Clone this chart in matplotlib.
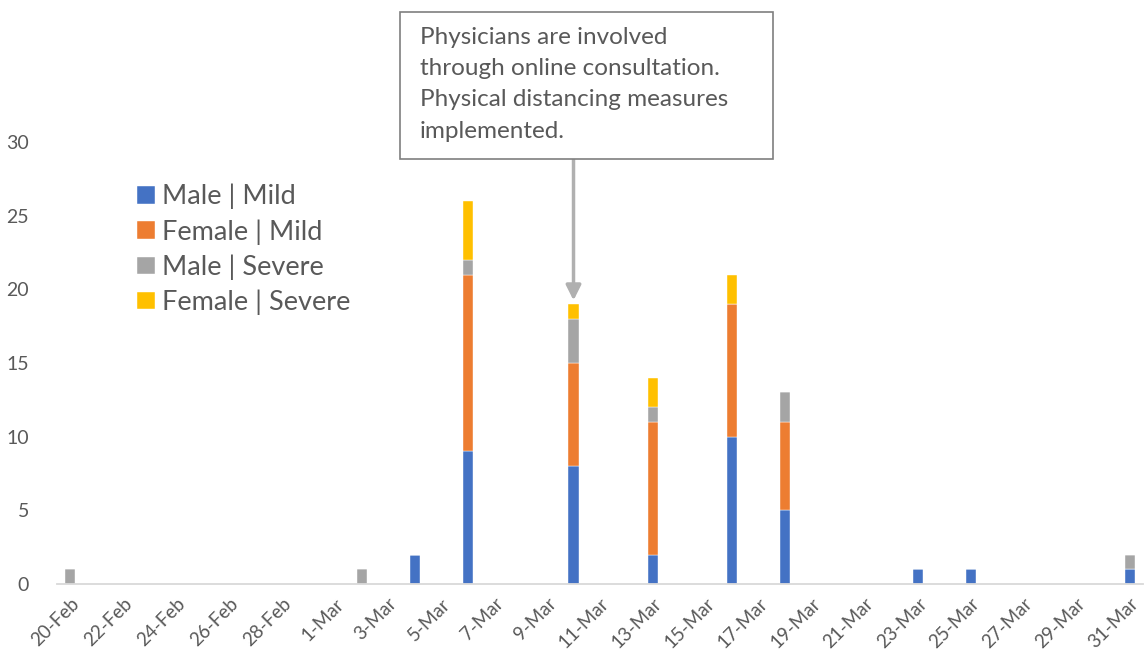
import pandas as pd
import numpy as np
import matplotlib
matplotlib.use('Agg')
import matplotlib.pyplot as plt
from matplotlib.patches import Rectangle

plt.rcParams['font.family'] = ['Lato', 'DejaVu Sans']

# data
start = '2020-02-20'
end = '2020-03-31'
case_days = ['2020-02-20', '2020-03-02', '2020-03-04', '2020-03-06', '2020-03-10',
             '2020-03-13', '2020-03-16', '2020-03-18', '2020-03-23', '2020-03-25',
             '2020-03-31']
male_mild = [0, 0, 2, 9, 8, 2, 10, 5, 1, 1, 1]
female_mild = [0, 0, 0, 12, 7, 9, 9, 6, 0, 0, 0]
male_severe = [1, 1, 0, 1, 3, 1, 0, 2, 0, 0, 1]
female_severe = [0, 0, 0, 4, 1, 2, 2, 0, 0, 0, 0]
series_names = ['Male | Mild', 'Female | Mild', 'Male | Severe', 'Female | Severe']
colors = ['#4472C4', '#ED7D31', '#A5A5A5', '#FFC000']
note = ('Physicians are involved\nthrough online consultation.\n'
        'Physical distancing measures\nimplemented.')
note_day = '2020-03-10'

all_days = pd.date_range(start, end, freq='D')
t0 = pd.Timestamp(start)
x = np.array([(pd.Timestamp(d) - t0).days for d in case_days])
tick_x = np.arange(0, len(all_days), 2)
tick_labels = [f"{d.day}-{d.strftime('%b')}" for d in all_days[::2]]

W, H = 1146, 664
fig = plt.figure(figsize=(W / 100, H / 100), dpi=100)
ax = fig.add_axes([57 / W, (H - 584) / H, 1086 / W, 442 / H])

bottom = np.zeros(len(x))
for vals, name, c in zip([male_mild, female_mild, male_severe, female_severe], series_names, colors):
    vals = np.array(vals)
    ax.bar(x, vals, width=0.38, bottom=bottom, color=c, label=name,
           edgecolor='white', linewidth=0.3)
    bottom = bottom + vals

ax.set_xlim(-0.5, len(all_days) - 0.5)
ax.set_ylim(0, 30)
ax.set_yticks([0, 5, 10, 15, 20, 25, 30])
ax.set_xticks(tick_x)
ax.set_xticklabels(tick_labels, rotation=45, ha='right', va='top', rotation_mode='anchor')
ax.tick_params(axis='both', length=0, labelsize=13.5, colors='#595959')
ax.tick_params(axis='y', labelsize=14, pad=20)
ax.tick_params(axis='x', pad=8)
for s in ['top', 'right', 'left']:
    ax.spines[s].set_visible(False)
ax.spines['bottom'].set_color('#D9D9D9')
ax.spines['bottom'].set_linewidth(1.3)

leg = ax.legend(loc='upper left', bbox_to_anchor=(126 / W, 1 - 173 / H),
                bbox_transform=fig.transFigure, frameon=False, fontsize=19.5,
                handlelength=0.68, handleheight=0.62, handletextpad=0.25,
                labelspacing=0.36, borderaxespad=0)
for t in leg.get_texts():
    t.set_color('#595959')

# annotation box and arrow
fig.patches.append(Rectangle((400 / W, 1 - 159 / H), 373 / W, 147 / H,
                             transform=fig.transFigure, facecolor='white',
                             edgecolor='#7F7F7F', linewidth=1.2))
fig.text(420 / W, 1 - 27 / H, note, ha='left', va='top', fontsize=17.5,
         color='#595959', linespacing=1.6)
nx = (pd.Timestamp(note_day) - t0).days
ax.annotate('', xy=(nx, 19.25), xytext=(nx, 28.85),
            arrowprops=dict(arrowstyle='-|>,head_length=0.9,head_width=0.45',
                            color='#B0B0B0', lw=2.5, shrinkA=0, shrinkB=0),
            annotation_clip=False)

fig.savefig('out.png', dpi=100)
